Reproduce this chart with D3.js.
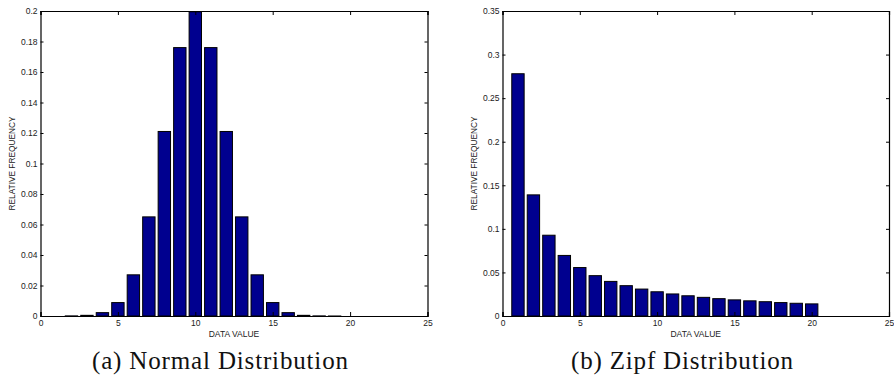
<!DOCTYPE html>
<html><head><meta charset="utf-8">
<script src="https://cdn.jsdelivr.net/npm/d3@7"></script>
<style>body{margin:0;background:#fff}svg{display:block}</style>
</head><body>
<svg id="c" width="894" height="375"></svg>
<script>
const normalX = [1,2,3,4,5,6,7,8,9,10,11,12,13,14,15,16,17,18,19,20];
const normalY = [0.00000,0.00007,0.00044,0.0022,0.0088,0.027,0.065,0.121,0.176,0.1995,0.176,0.121,0.065,0.027,0.0088,0.0022,0.00044,0.00007,0.00001,0.0];
const zipfX = [1,2,3,4,5,6,7,8,9,10,11,12,13,14,15,16,17,18,19,20];
const zipfY = [0.278,0.139,0.0927,0.0695,0.0556,0.0463,0.0397,0.0348,0.0309,0.0278,0.0253,0.0232,0.0214,0.0199,0.0185,0.0174,0.0164,0.0154,0.0146,0.0139];
const xTicks = [0,5,10,15,20,25];
const normalYTicks = [0,0.02,0.04,0.06,0.08,0.1,0.12,0.14,0.16,0.18,0.2];
const zipfYTicks = [0,0.05,0.1,0.15,0.2,0.25,0.3,0.35];
const captions = ["(a) Normal Distribution","(b) Zipf Distribution"];
const xLabel = "DATA VALUE", yLabel = "RELATIVE FREQUENCY";

const svg = d3.select("#c");
const font = "'Liberation Sans', Arial, sans-serif";

function panel(left, right, xs, ys, yMax, yTicks, caption, capX, capW) {
  const top = 11, bottom = 316;
  const x = d3.scaleLinear().domain([0,25]).range([left,right]);
  const y = d3.scaleLinear().domain([0,yMax]).range([bottom,top]);
  const g = svg.append("g");
  const bw = x(0.8) - x(0);
  g.selectAll("rect.bar").data(xs.map((v,i)=>({x:v,y:ys[i]}))).enter().append("rect")
    .attr("x", d=>x(d.x)-bw/2).attr("width", bw)
    .attr("y", d=>y(d.y)).attr("height", d=>bottom-y(d.y))
    .attr("fill","#00008f").attr("stroke","#000").attr("stroke-width",1);
  const fmt = d=>String(+d.toFixed(2));
  const axB = g.append("g").attr("transform",`translate(0,${bottom})`).call(d3.axisBottom(x).tickValues(xTicks).tickSize(-4).tickPadding(4).tickFormat(d=>d));
  const axT = g.append("g").attr("transform",`translate(0,${top})`).call(d3.axisTop(x).tickValues(xTicks).tickSize(-4).tickFormat(""));
  const axL = g.append("g").attr("transform",`translate(${left},0)`).call(d3.axisLeft(y).tickValues(yTicks).tickSize(-3).tickPadding(3).tickFormat(fmt));
  const axR = g.append("g").attr("transform",`translate(${right},0)`).call(d3.axisRight(y).tickValues(yTicks).tickSize(-3).tickFormat(""));
  [axB,axT,axL,axR].forEach(a=>{
    a.select(".domain").attr("stroke","#000").attr("stroke-width",1.2);
    a.selectAll(".tick line").attr("stroke","#000");
    a.selectAll("text").attr("font-family",font).attr("font-size",8.5).attr("fill","#222");
  });
  g.append("text").attr("x",(left+right)/2).attr("y",337).attr("text-anchor","middle")
    .attr("font-family",font).attr("font-size",8.5).attr("fill","#222").text(xLabel);
  g.append("text").attr("transform",`translate(${left-25.5},${(top+bottom)/2}) rotate(-90)`)
    .attr("text-anchor","middle").attr("font-family",font).attr("font-size",8.3).attr("fill","#222").text(yLabel);
  g.append("text").attr("x",capX).attr("y",369).attr("text-anchor","middle")
    .attr("font-family","'Liberation Serif', 'DejaVu Serif', serif").attr("font-size",25).attr("fill","#111")
    .attr("textLength",capW).attr("lengthAdjust","spacing").text(caption);
}
panel(40.5, 427.5, normalX, normalY, 0.2, normalYTicks, captions[0], 220, 256);
panel(502.5, 889, zipfX, zipfY, 0.35, zipfYTicks, captions[1], 682, 222);
</script>
</body></html>
